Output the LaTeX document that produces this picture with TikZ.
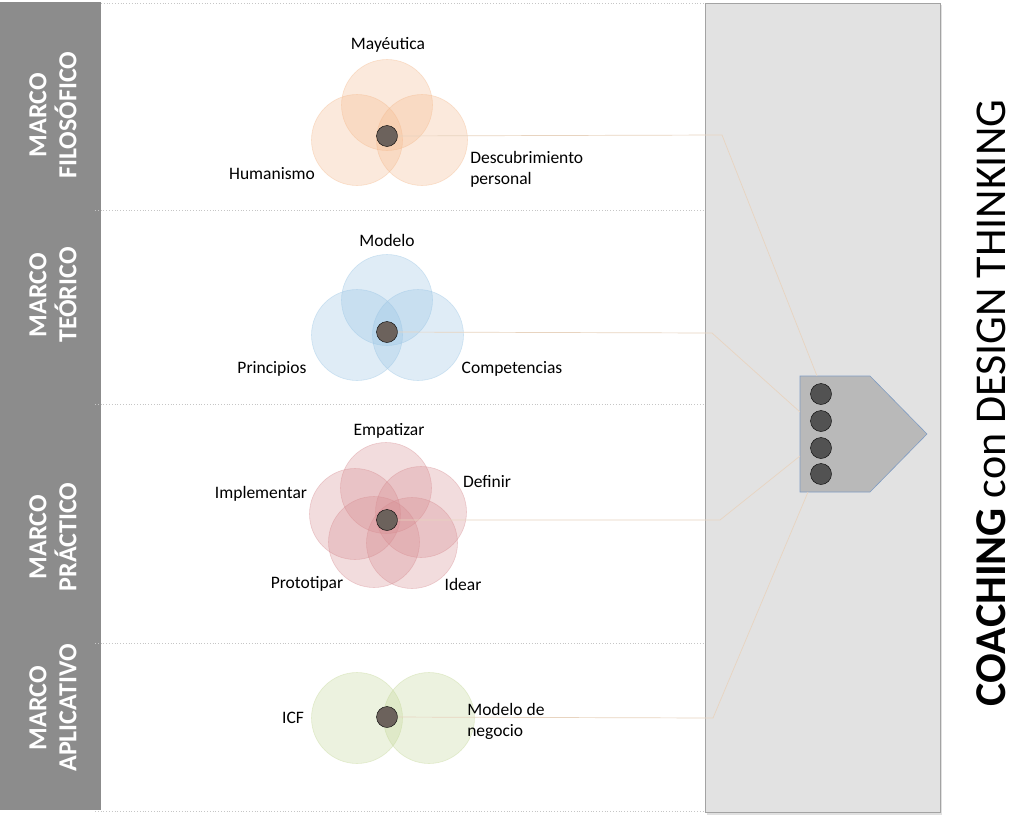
\documentclass[tikz,border=0pt]{standalone}
\usepackage{fontspec}
\setmainfont{Carlito}
\usetikzlibrary{positioning}

\definecolor{bandgray}{HTML}{8C8C8C}
\definecolor{panelgray}{HTML}{E2E2E2}
\definecolor{panelline}{HTML}{A3A3A3}
\definecolor{arrowgray}{HTML}{B9B9B9}
\definecolor{arrowline}{HTML}{7F9CC3}
\definecolor{filocol}{RGB}{245,185,140}
\definecolor{teocol}{RGB}{150,195,228}
\definecolor{praccol}{RGB}{215,140,145}
\definecolor{aplicol}{RGB}{195,215,150}
\definecolor{dotcol}{RGB}{108,98,92}
\definecolor{linkcol}{RGB}{232,212,192}

\begin{document}
\begin{tikzpicture}[x=1pt,y=-1pt,semithick]
  \tikzstyle{venn}=[circle,minimum size=91pt,inner sep=0pt,draw opacity=0.4,fill opacity=0.3]
  \tikzstyle{vennfilo}=[venn,fill=filocol,draw=filocol]
  \tikzstyle{vennteo}=[venn,fill=teocol,draw=teocol]
  \tikzstyle{vennprac}=[venn,fill=praccol,draw=praccol]
  \tikzstyle{vennapli}=[venn,fill=aplicol,draw=aplicol]
  \tikzstyle{hub}=[circle,minimum size=21pt,inner sep=0pt,fill=dotcol,draw=black,thin]
  \tikzstyle{label}=[font=\fontsize{17.5}{21}\selectfont,inner sep=1pt]
  \tikzstyle{band}=[rotate=90,align=center,text=white,font=\fontsize{26}{30}\selectfont\bfseries]
  \tikzstyle{sepline}=[dotted,draw=gray!45,line width=0.8pt]
  \tikzstyle{link}=[draw=linkcol,line width=0.7pt]
  \tikzstyle{slot}=[circle,minimum size=21pt,inner sep=0pt,fill=black!68,draw=black,thin]

  \useasboundingbox (0,0) rectangle (1024,816);
  \fill[white] (0,0) rectangle (1024,816);

  % left band and separators
  \fill[bandgray] (0,2) rectangle (101,810);
  \draw[sepline] (101,3) -- (705,3);
  \draw[sepline] (95,210) -- (705,210);
  \draw[sepline] (95,404) -- (705,404);
  \draw[sepline] (95,643) -- (705,643);
  \draw[sepline] (95,811) -- (705,811);

  \node[band] (bfilo) at (53,115) {MARCO\\FILOSÓFICO};
  \node[band] (bteo)  at (53,295) {MARCO\\TEÓRICO};
  \node[band] (bprac) at (53,537) {MARCO\\PRÁCTICO};
  \node[band] (bapli) at (53,708) {MARCO\\APLICATIVO};

  % right panel
  \fill[black!12] (707,5) rectangle (942,815);
  \draw[panelline,fill=panelgray] (705,3) rectangle (940,812);

  % marco filosofico
  \node[vennfilo] (f1) at (387,105) {};
  \node[vennfilo] (f2) at (357,140) {};
  \node[vennfilo] (f3) at (422,140) {};
  \node[hub] (fh) at (387,136) {};
  \node[label] (lf1) at (388,45) {Mayéutica};
  \node[label] (lf2) at (272,174) {Humanismo};
  \node[label,anchor=west,align=left] (lf3) at (469,169) {Descubrimiento\\personal};

  % marco teorico
  \node[vennteo] (t1) at (387,300) {};
  \node[vennteo] (t2) at (357,335) {};
  \node[vennteo] (t3) at (418,335) {};
  \node[hub] (th) at (387,332) {};
  \node[label] (lt1) at (387,240) {Modelo};
  \node[label] (lt2) at (272,369) {Principios};
  \node[label] (lt3) at (512,369) {Competencias};

  % marco practico
  \node[vennprac] (p1) at (386,488) {};
  \node[vennprac] (p2) at (421,512) {};
  \node[vennprac] (p3) at (412,543) {};
  \node[vennprac] (p4) at (374,542) {};
  \node[vennprac] (p5) at (355,514) {};
  \node[hub] (ph) at (387,520) {};
  \node[label] (lp1) at (389,431) {Empatizar};
  \node[label] (lp2) at (487,482) {Definir};
  \node[label] (lp3) at (261,494) {Implementar};
  \node[label] (lp4) at (307,584) {Prototipar};
  \node[label] (lp5) at (463,584) {Idear};

  % marco aplicativo
  \node[vennapli] (a1) at (357,718) {};
  \node[vennapli] (a2) at (429,718) {};
  \node[hub] (ah) at (387,717) {};
  \node[label] (la1) at (293,718) {ICF};
  \node[label,anchor=west,align=left] (la2) at (466,721) {Modelo de\\negocio};

  % arrow block
  \draw[arrowline,fill=arrowgray] (800,376) coordinate (pnw) -- (870,376) -- (927,434) coordinate (ptip)
        -- (870,492) -- (800,492) coordinate (psw) -- cycle;
  \node[slot] (s1) at (821,394) {};
  \node[slot] (s2) at (821,421) {};
  \node[slot] (s3) at (821,448) {};
  \node[slot] (s4) at (821,474) {};

  % links
  \coordinate (kf) at (722,135);
  \coordinate (kt) at (712,333);
  \coordinate (kp) at (720,520);
  \coordinate (ka) at (713,718);
  \coordinate (ef) at (817,376);
  \coordinate (et) at (800,412);
  \coordinate (ep) at (800,456);
  \coordinate (ea) at (808,492);
  \draw[link] (fh) -- (kf) -- (ef);
  \draw[link] (th) -- (kt) -- (et);
  \draw[link] (ph) -- (kp) -- (ep);
  \draw[link] (ah) -- (ka) -- (ea);

  % title
  \node[rotate=90,font=\fontsize{44}{46}\selectfont] (title) at (991,403)
        {\textbf{COACHING} con DESIGN THINKING};
\end{tikzpicture}
\end{document}
